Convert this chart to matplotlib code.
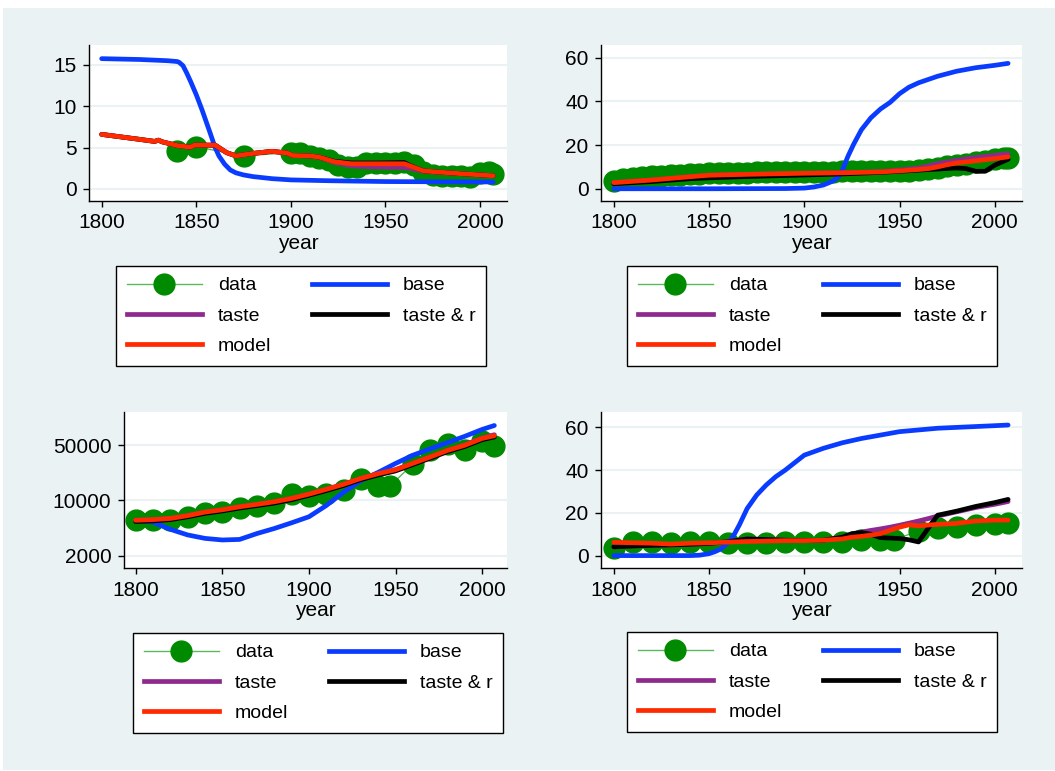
import numpy as np
import matplotlib.pyplot as plt
from matplotlib.lines import Line2D
from matplotlib.patches import Rectangle

plt.rcParams['font.family'] = ['Liberation Sans', 'DejaVu Sans']

# colours (Stata s2color-like)
c_bg = '#eaf2f3'
c_data = '#008a00'
c_dataline = '#5cb85c'
c_base = '#0a3cff'
c_taste = '#8e2a8e'
c_taster = '#000000'
c_model = '#ff2a00'

# ---------- panel 1 ----------
p1_data_years = [1840, 1850, 1875] + list(range(1900, 2006, 5)) + [2007]
p1_data = [4.6, 5.1, 4.0,
           4.4, 4.3, 4.0, 3.8, 3.5, 2.9, 2.7, 2.7, 3.1, 3.2, 3.2, 3.2, 3.3,
           2.9, 2.0, 1.7, 1.6, 1.55, 1.55, 1.5, 1.9, 2.0, 1.8]
p1_base_years = [1800, 1820, 1835, 1840, 1841, 1843, 1845, 1847, 1850, 1853, 1855,
                 1857, 1860, 1862, 1865, 1868, 1871, 1875, 1880, 1890, 1900, 1920,
                 1950, 1980, 2007]
p1_base = [15.75, 15.65, 15.5, 15.4, 15.3, 14.9, 14.0, 13.0, 11.4, 9.6, 8.3,
           7.0, 5.0, 4.0, 3.0, 2.3, 1.95, 1.7, 1.5, 1.25, 1.1, 1.0,
           0.9, 0.87, 0.85]
p1_years = [1800, 1810, 1820, 1828, 1830, 1832, 1840, 1847, 1849, 1860, 1866, 1871,
            1880, 1890, 1898, 1901, 1910, 1915, 1923, 1932, 1945, 1960, 1963, 1970,
            1975, 1990, 2007]
p1_model = [6.6, 6.3, 6.0, 5.75, 5.9, 5.7, 5.25, 5.05, 5.3, 5.3, 4.4, 4.0,
            4.3, 4.55, 4.35, 4.05, 4.0, 3.85, 3.3, 3.05, 3.05, 3.05, 2.8, 2.2,
            2.1, 1.85, 1.6]
p1_taster = [6.6, 6.3, 6.0, 5.75, 5.9, 5.7, 5.25, 5.05, 5.3, 5.3, 4.4, 4.0,
             4.3, 4.55, 4.35, 4.05, 4.0, 3.85, 3.35, 3.15, 3.15, 3.2, 2.85, 2.2,
             2.1, 1.85, 1.6]
p1_taste = [6.6, 6.3, 6.0, 5.75, 5.9, 5.7, 5.25, 5.05, 5.3, 5.3, 4.4, 4.0,
            4.3, 4.55, 4.35, 4.05, 4.0, 3.85, 3.2, 2.8, 2.65, 2.6, 2.5, 2.15,
            2.05, 1.85, 1.6]

# ---------- panel 2 ----------
p2_data_years = list(range(1800, 2006, 5)) + [2007]
p2_data = [3.5, 4.3, 4.9, 5.3, 5.7, 6.0, 6.3, 6.5, 6.7, 6.9, 7.0, 7.1, 7.2, 7.3,
           7.4, 7.5, 7.5, 7.6, 7.7, 7.7, 7.8, 7.8, 7.9, 7.9, 8.0, 8.0, 8.0, 8.1,
           8.1, 8.2, 8.2, 8.3, 8.4, 8.9, 9.7, 10.5, 11.0, 11.5, 12.2, 12.8, 13.4,
           13.9, 14.1]
p2_base_years = [1800, 1850, 1890, 1900, 1905, 1910, 1915, 1918, 1920, 1923, 1926,
                 1930, 1935, 1940, 1945, 1950, 1955, 1960, 1970, 1980, 1990, 2000, 2007]
p2_base = [0, 0, 0.1, 0.3, 0.8, 1.7, 3.5, 5.5, 8.5, 15, 20.5,
           27, 32.5, 36.5, 39.5, 43.5, 46.5, 48.5, 51.5, 53.8, 55.4, 56.5, 57.4]
p2_years = [1800, 1820, 1840, 1850, 1870, 1900, 1920, 1940, 1950, 1960, 1965,
            1970, 1975, 1980, 1985, 1990, 1995, 2000, 2007]
p2_model = [2.8, 4.0, 5.5, 6.2, 6.6, 7.1, 7.3, 7.7, 8.2, 8.8, 9.2,
            10.0, 11.0, 11.8, 12.3, 12.8, 13.3, 13.8, 14.6]
p2_taste = [2.8, 4.0, 5.5, 6.2, 6.6, 7.1, 7.3, 7.8, 8.6, 9.5, 10.4,
            11.5, 12.3, 13.0, 13.7, 14.3, 14.8, 15.3, 16.0]
p2_taster = [2.3, 3.3, 4.6, 5.0, 5.6, 6.3, 6.8, 7.5, 8.0, 8.5, 8.8,
             9.0, 9.3, 9.5, 9.2, 8.0, 8.0, 10.8, 13.5]

# ---------- panels 3 and 4 share the data years ----------
p34_data_years = [1800, 1810, 1820, 1830, 1840, 1850, 1860, 1870, 1880, 1890, 1900,
                  1910, 1920, 1930, 1940, 1947, 1960, 1970, 1980, 1990, 2000, 2007]

p3_data = [5700, 5600, 5650, 6200, 6900, 7100, 7900, 8500, 9300, 12100, 11500,
           11900, 13600, 18700, 15400, 15400, 28900, 43300, 52500, 43300, 56200, 49000]
p3_years = [1800, 1810, 1820, 1830, 1840, 1850, 1860, 1870, 1880, 1890, 1900,
            1910, 1920, 1930, 1940, 1950, 1960, 1970, 1980, 1990, 2000, 2007]
p3_model = [5600, 5700, 5900, 6400, 7100, 7600, 8300, 8900, 9600, 10600, 12000,
            13800, 16000, 19000, 21800, 24500, 29500, 35500, 43000, 50000, 61000, 66000]
p3_taste = [5600, 5700, 5900, 6400, 7100, 7600, 8300, 8900, 9600, 10600, 12000,
            13800, 16000, 19000, 21800, 24500, 29500, 35500, 43000, 50500, 62000, 68000]
p3_taster = [5400, 5500, 5700, 6200, 6850, 7350, 8000, 8600, 9250, 10200, 11600,
             13300, 15450, 18350, 21000, 23650, 28500, 34300, 41500, 48300, 58900, 63700]
p3_base = [5600, 5300, 4300, 3650, 3300, 3150, 3200, 3800, 4400, 5200, 6200,
           8600, 12700, 17800, 22700, 29400, 37400, 45000, 54000, 65000, 79400, 89000]

p4_data = [3.4, 6.3, 6.2, 6.1, 6.3, 6.3, 5.9, 5.8, 5.9, 6.2, 6.5,
           6.2, 6.5, 7.2, 7.4, 7.4, 11.5, 12.7, 13.5, 14.5, 15.0, 15.3]
p4_years = [1800, 1810, 1820, 1830, 1840, 1850, 1860, 1870, 1880, 1890, 1900, 1910,
            1920, 1925, 1930, 1935, 1940, 1945, 1950, 1955, 1960, 1965, 1970, 1980,
            1990, 2000, 2007]
p4_model = [6.2, 6.0, 5.8, 5.4, 5.8, 6.0, 6.3, 6.6, 6.8, 7.0, 7.0, 7.2,
            7.8, 8.6, 9.0, 9.6, 10.3, 11.8, 13.3, 14.4, 13.9, 14.3, 14.6, 15.1,
            16.2, 16.6, 16.6]
p4_taster = [4.1, 4.5, 4.8, 5.0, 5.3, 5.7, 6.5, 7.8, 7.5, 7.2, 7.0, 7.2,
             8.6, 10.3, 10.8, 10.0, 8.4, 8.2, 8.0, 7.4, 6.4, 12.7, 18.9, 20.8,
             23.0, 24.8, 26.3]
p4_taste = [4.1, 4.5, 4.8, 5.0, 5.3, 5.7, 6.5, 7.8, 7.5, 7.2, 7.0, 7.2,
            8.6, 10.0, 11.0, 11.8, 12.5, 13.3, 14.2, 15.2, 16.2, 17.3, 18.5, 20.5,
            22.5, 24.0, 25.3]
p4_base_years = [1800, 1820, 1840, 1845, 1850, 1853, 1856, 1860, 1863, 1866, 1870,
                 1875, 1880, 1885, 1890, 1895, 1900, 1910, 1920, 1930, 1950, 1970,
                 2000, 2007]
p4_base = [0, 0, 0, 0.2, 0.9, 1.8, 3.0, 6.0, 9.5, 14.5, 22.0,
           28.3, 33.0, 36.9, 40.0, 43.5, 47.0, 50.2, 52.8, 54.8, 58.0, 59.6,
           60.8, 61.1]

W, H = 1055, 771
fig = plt.figure(figsize=(W / 100, H / 100), dpi=100)
fig.patch.set_facecolor('white')
fig.patches.append(Rectangle((3 / W, 1 - 770 / H), 1 - 3 / W, (770 - 8) / H,
                             transform=fig.transFigure, facecolor=c_bg,
                             edgecolor='none', zorder=-10))

LW = 3.4
MS = 15
FS = 15


def box(l, t, r, b):
    return [l / W, 1 - b / H, (r - l) / W, (b - t) / H]


def panel(rect, dyears, data, byears, base, years, taste, taster, model,
          ylim, yticks, logy=False):
    ax = fig.add_axes(rect)
    ax.set_facecolor('white')
    if logy:
        ax.set_yscale('log')
    for y in yticks:
        ax.axhline(y, color=c_bg, lw=1.5, zorder=0.5)
    ax.plot(dyears, data, '-', color=c_dataline, lw=1, zorder=1)
    ax.plot(dyears, data, 'o', color=c_data, ms=MS, mec=c_data, zorder=1.1)
    ax.plot(byears, base, color=c_base, lw=LW, zorder=2, solid_capstyle='round')
    ax.plot(years, taste, color=c_taste, lw=LW, zorder=3, solid_capstyle='round')
    ax.plot(years, taster, color=c_taster, lw=LW, zorder=4, solid_capstyle='round')
    ax.plot(years, model, color=c_model, lw=LW, zorder=5, solid_capstyle='round')
    ax.set_xlim(1793.3, 2014.3)
    ax.set_ylim(*ylim)
    ax.set_xticks([1800, 1850, 1900, 1950, 2000])
    ax.set_yticks(yticks)
    ax.set_yticklabels([str(v) for v in yticks])
    ax.minorticks_off()
    for s in ['top', 'right']:
        ax.spines[s].set_visible(False)
    for s in ['left', 'bottom']:
        ax.spines[s].set_linewidth(1)
    ax.tick_params(direction='out', length=4.5, width=1, labelsize=FS, pad=4.5)
    ax.set_xlabel('year', fontsize=FS, labelpad=1)
    return ax


def legend(l, t):
    hs = [Line2D([], [], color=c_dataline, lw=1, marker='o', ms=MS,
                 mfc=c_data, mec=c_data),
          Line2D([], [], color=c_taste, lw=LW),
          Line2D([], [], color=c_model, lw=LW),
          Line2D([], [], color=c_base, lw=LW),
          Line2D([], [], color=c_taster, lw=LW)]
    labs = ['data', 'taste', 'model', 'base', 'taste & r']
    lg = fig.legend(hs, labs, ncol=2, loc='upper left',
                    bbox_to_anchor=(l / W, 1 - t / H), borderaxespad=0,
                    fontsize=14, handlelength=3.86, handletextpad=0.82,
                    columnspacing=2.1, labelspacing=0.66, borderpad=0.55,
                    frameon=True, fancybox=False, framealpha=1)
    lg.get_frame().set_edgecolor('black')
    lg.get_frame().set_linewidth(1)


panel(box(89, 45, 507, 201), p1_data_years, p1_data, p1_base_years, p1_base,
      p1_years, p1_taste, p1_taster, p1_model, (-1.45, 17.4), [0, 5, 10, 15])
panel(box(601, 45, 1022, 201), p2_data_years, p2_data, p2_base_years, p2_base,
      p2_years, p2_taste, p2_taster, p2_model, (-5.6, 65.8), [0, 20, 40, 60])
panel(box(124, 412, 507, 568), p34_data_years, p3_data, p3_years, p3_base,
      p3_years, p3_taste, p3_taster, p3_model, (1390, 132000),
      [2000, 10000, 50000], logy=True)
panel(box(601, 412, 1022, 568), p34_data_years, p4_data, p4_base_years, p4_base,
      p4_years, p4_taste, p4_taster, p4_model, (-5.8, 67.2), [0, 20, 40, 60])

legend(116, 266)
legend(627, 266)
legend(133, 633)
legend(627, 632)

fig.savefig('out.png', dpi=100, facecolor='white')
